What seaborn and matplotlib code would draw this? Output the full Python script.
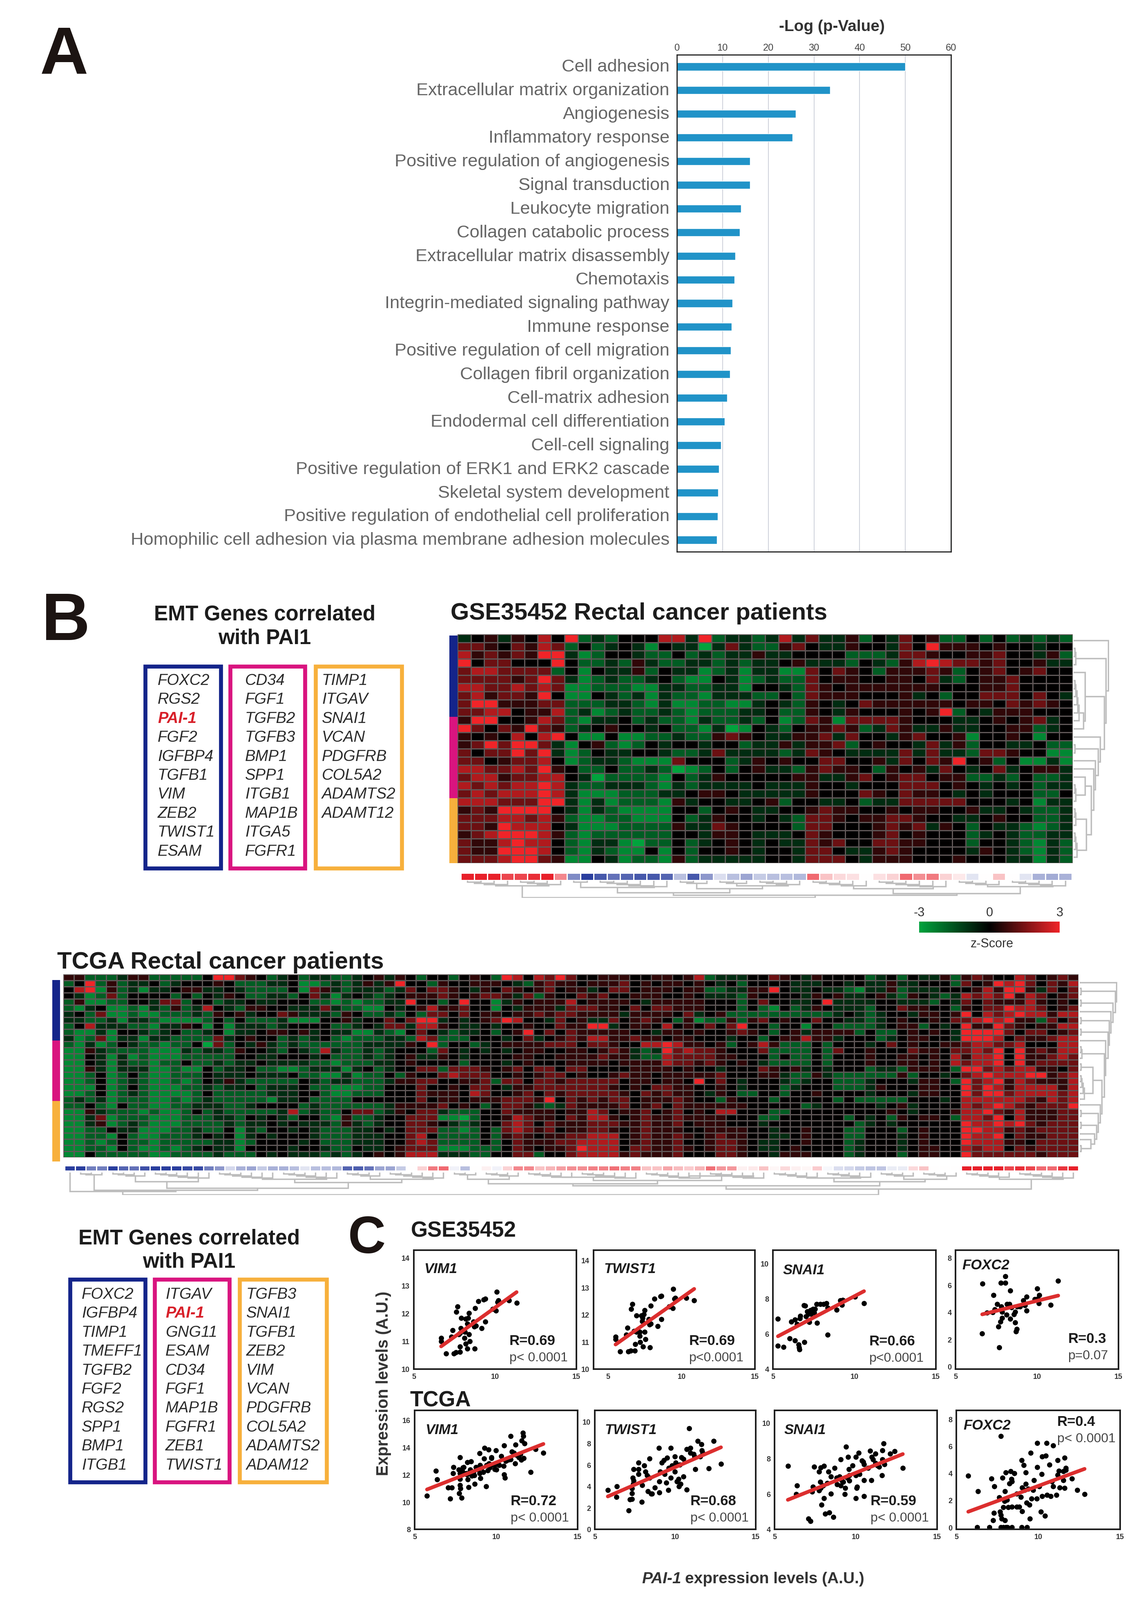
import numpy as np
import seaborn as sns
import matplotlib.pyplot as plt
from matplotlib.colors import LinearSegmentedColormap, ListedColormap
from matplotlib.patches import Rectangle
from matplotlib.transforms import ScaledTranslation

# --- Panel A data ---
GO_TERMS = ['Cell adhesion', 'Extracellular matrix organization', 'Angiogenesis', 'Inflammatory response',
            'Positive regulation of angiogenesis', 'Signal transduction', 'Leukocyte migration',
            'Collagen catabolic process', 'Extracellular matrix disassembly', 'Chemotaxis',
            'Integrin-mediated signaling pathway', 'Immune response', 'Positive regulation of cell migration',
            'Collagen fibril organization', 'Cell-matrix adhesion', 'Endodermal cell differentiation',
            'Cell-cell signaling', 'Positive regulation of ERK1 and ERK2 cascade', 'Skeletal system development',
            'Positive regulation of endothelial cell proliferation',
            'Homophilic cell adhesion via plasma membrane adhesion molecules']
GO_VALUES = [50, 33.5, 26, 25.3, 16, 16, 14, 13.8, 12.8, 12.6, 12.2, 12, 11.8, 11.6, 11, 10.5, 9.7, 9.2, 9, 8.9, 8.8]

# --- Heatmaps: one digit per cell, 1 = brightest green, 5 = black, 9 = brightest red ---
LEVEL_Z = [0, -3, -2.5, -1.7, -.8, 0, .6, 1.35, 2.2, 3]
GSE_LEFT = [
    '45646585 93435558 84934434', '77657687 35345425 44147433', '86767699 42355433 53434464',
    '95775559 53343643 34434344', '78877773 52544635 44234244', '77776797 42343345 32254234',
    '88778787 22333224 43344255', '78677695 22543424 33244433', '79966677 33344324 22332245',
    '77885668 34234334 32333445', '69955687 32445343 32433435', '97576976 34565545 33241254',
    '65658589 52252233 43367654', '67979974 25632354 55455344', '75779794 23544554 33474444',
    '77567785 23443222 75553465', '88778796 53353343 12353564', '78867788 54133332 53465555',
    '87878898 43344432 43444454', '78788898 42223334 45665444', '88877799 42423332 64554456',
    '67699995 42432222 55356544', '77788786 32233222 53465545', '77698885 42223333 64476555',
    '67899986 32333333 55466544', '76689885 32442133 53456545', '76699985 32432252 53556545',
    '77789976 22542332 63444445']
GSE_RIGHT = [
    '8474463 5 47 5 63 3 53 53 4 34 3', '6754465 5 47 5 96 6 65 65 5 45 5', '4555533 3 47 7 65 5 66 75 5 46 3',
    '5644435 4 36 8 98 7 76 75 5 64 4', '2275765 3 66 6 76 3 56 75 6 75 5', '3375665 5 66 5 74 3 56 67 5 55 5',
    '4376566 6 66 6 65 5 56 67 5 55 5', '5376665 5 56 4 53 5 57 77 5 75 4', '4365457 6 66 6 66 5 66 57 6 76 5',
    '3365465 5 56 5 69 3 54 66 6 55 5', '2376277 7 76 5 55 4 45 65 6 74 5', '3566763 4 76 4 46 4 45 56 6 34 5',
    '4667475 5 46 7 55 6 25 56 5 25 5', '6466735 6 55 4 74 6 35 54 4 53 3', '3476544 4 47 4 74 4 37 76 5 52 2',
    '6557755 6 47 5 76 9 56 35 2 24 2', '4367665 3 65 6 47 5 45 74 5 66 4', '5664467 5 67 7 56 6 33 43 5 33 4',
    '4465545 5 57 7 75 6 54 54 5 34 4', '4465557 6 57 6 65 4 54 55 5 33 5', '3554453 4 47 7 77 7 55 54 5 24 4',
    '5567665 5 65 6 65 5 64 45 4 33 4', '4377656 6 77 6 55 4 45 65 5 33 4', '5377555 6 76 7 46 5 35 44 3 23 4',
    '4576555 6 75 6 55 5 34 54 3 34 4', '4476755 7 76 6 55 5 35 54 3 24 3', '5477544 6 76 5 55 5 46 54 3 24 3',
    '5477754 6 66 5 55 6 55 54 4 24 3']

TCGA_LEFT = [
    '6633346633 3335997653 4534433456 4653553', '3593634453 4555653334 4522343464 6955365',
    '5892634244 5664454333 3527643444 3475776', '5423735555 3535465334 4357424543 4566676',
    '3622335547 7355344544 5553323233 4495535', '3245223243 6348543665 5444743322 5456866',
    '4537223223 3343656455 7644436533 4353775', '4433424432 2223535333 4222556455 7579945',
    '3584443324 4652524443 4555533454 7748865', '3224255434 5334524456 6564544224 3257543',
    '4237244244 3333745655 3434532333 4438733', '3242354332 3351735464 3433333344 4465935',
    '2264333322 2434436554 3543843343 4555375', '2254242322 2333335544 5554533343 4564465',
    '2254243323 3533434454 4443323334 4565555', '2264244422 3225344533 2234442453 4557737',
    '2235235322 3335444544 4533224233 5365578', '2235234322 3235464333 3354344333 4667755',
    '2225235322 2334344534 4453322233 5557556', '2235234322 2235333334 4455322333 5557666',
    '3434233322 3234333332 4453333555 5557566', '3353253322 3344433455 5534333333 4666675',
    '2264333232 2353433333 4834335773 4657743', '2247233322 2333443545 4355326334 5577722',
    '2246234322 2333343445 4544436434 5577654', '2233544222 3343352435 5454333445 4577733',
    '2233253223 3345452454 5554333444 5578533', '2232353323 3333442355 5545333444 5578733',
    '2233253223 2345442555 5455433544 5677722', '2253333322 3333433354 5444343456 5688844']
TCGA_MID = [
    '5653985879 7556665566 5683444557 65465555', '5666543676 6566675656 6565453555 54445545',
    '5465765675 6645775666 5663344669 54454432', '5677647365 5767556665 5654443655 55465644',
    '9552465666 8566665466 6665553575 54459444', '7552546664 7776657577 6665553532 53465444',
    '7566566767 7666646666 5745633333 33333454', '4567985547 5644756765 3623363675 65575544',
    '4454556557 6699456658 5657579553 55255333', '4453569575 7666665546 6565567653 56466663',
    '3555457456 7688667665 6655545535 66866455', '5345666677 7577655889 8665635686 33353555',
    '4545456655 6656764349 7877655573 33353755', '4555566556 6667664338 7777665553 53353555',
    '3555456555 6666566668 7767656543 33353555', '7765675775 7755556666 5655455576 56454555',
    '7775565677 5655676656 6666755566 43364333', '6673775776 7777756656 6595754555 43455333',
    '5775466777 7777656577 6655654555 34555333', '5875567576 7777765767 6654653355 35565555',
    '5666777695 7676775666 7655365553 55555353', '6535776434 7666675675 7666666555 55345555',
    '3355766665 6687566756 7565885553 35555555', '1355687665 7688656766 7666655533 55555535',
    '3455787576 6677766766 7566655545 55555553', '2353787675 6677656766 6556666554 55655533',
    '3353676566 7788856766 7656766554 45655533', '3353576667 7888856766 7556776544 55655534',
    '2333576566 7988857766 7656776544 56555534', '4335577355 7888867666 7555776554 66655534']
TCGA_RIGHT = [
    '345354463 67655875676', '446445553 75698975768', '446344455 56869964757',
    '564365434 87879687567', '455444354 75766686565', '355766553 65779887567',
    '345546656 95878988688', '345655657 78989663757', '345663545 96697656688',
    '533565654 99997577567', '534566554 99985766788', '457565566 78877855588',
    '655576657 78795967688', '655665658 68895966787', '655665658 78895967777',
    '344366653 99787886657', '333635545 78988899678', '455546653 97896876668',
    '465556655 97986888868', '455546655 97997888878', '333355545 88888876878',
    '545645555 87898767779', '556545556 88976866677', '453656653 88795866677',
    '454555555 98898976777', '555356555 99886767777', '555456555 98895766777',
    '555456555 98886657777', '555456655 87885767777', '555356655 97777776777']

# sample score strips under the heatmaps (z-score of PAI-1 per patient)
GSE_SAMPLE_SCORE = [3, 3, 3, 2.5, 2.5, 2.8, 3, 1.6, -1.8, -3, -2.6, -2.2, -2.4, -2.6, -2.6, -2.4,
                    -1, -2.6, -1.6, -.5, -1, -1.4, -.8, -1, -1, -1.1, 2, .8, .5, .4, 0, .4, .6, 2,
                    1.5, 1.8, .6, .3, -.4, 0, .8, 0, -.4, -1.2, -1.3, -1.2]
TCGA_SAMPLE_SCORE = [-3, -3, -2, -2, -3, -2.4, -2.2, -2.7, -3, -3, -3, -2.8, -2.8, -2, -1.6, -.6, -1.2, -1.4, -.8, -1.2,
                     -1.2, -1, -.4, -1, -1, -1.1, -2.4, -2.5, -2.2, -1.4, -1.4, -.8, 0, .6, 1.8, 2, -.2,
                     -1, 0, .2, -.2, .6, 1.6, 1.6, .8, 1, 1.3, 1.5, 1.5, 1.7, 1.7, 1.9, 1.7, 1.7, .8, .8, 1.2,
                     .9, .7, 1, 1.9, 1.4, 1.4, .2, .3, .8, .1, .5, .2, .1, .7, -.1, -.5, -.6, -.8,
                     -.9, -.9, -.3, -.3, .5, .8, 0, 0, 0, 3, 3, 3, 3, 2.5, 2.8, 2.5, 2, 2, 2.7, 3]
GSE_ROW_GROUPS = [10, 10, 8]
TCGA_ROW_GROUPS = [10, 10, 10]

# dendrograms: [merge height, child, child]; a plain int is a tight cluster of that many leaves
GSE_ROW_TREE = [1.0, 1, [.93, 3, [.88, [.33, 1, [.28, 6, 1]],
                [.76, 1, [.7, 2, [.62, 1, [.58, 1, [.5, [.33, 1, 3], [.36, 3, 4]]]]]]]]]
GSE_COL_TREE = [1.0, [.3, 4, 4], [.85, [.7, [.4, 2, 6], [.45, 3, [.3, 3, 4]]], [.75, [.45, 5, 6], [.35, 4, 5]]]]
TCGA_ROW_TREE = [1.0, 1, [.96, 2, [.9, 2, [.84, 1, [.8, 2, [.76, 2, [.7, 1, [.66, 3, [.6, [.35, 2, 5],
                 [.55, 1, [.5, 2, [.45, 2, [.4, 1, [.3, 1, 2]]]]]]]]]]]]]]
TCGA_COL_TREE = [1.0, [.85, 1, [.8, 3, [.7, [.4, 4, 6], [.45, [.3, 6, 6], [.3, 4, 6]]]]],
                 [.75, [.6, [.5, [.3, 3, 4], [.35, [.2, 5, 6], [.25, [.15, 6, 6], 0]]],
                        [.4, [.25, 5, 5], [.3, 4, 4]]], [.3, 5, 6]]]

# --- Gene lists ---
GSE_GENES = [['FOXC2', 'RGS2', 'PAI-1', 'FGF2', 'IGFBP4', 'TGFB1', 'VIM', 'ZEB2', 'TWIST1', 'ESAM'],
             ['CD34', 'FGF1', 'TGFB2', 'TGFB3', 'BMP1', 'SPP1', 'ITGB1', 'MAP1B', 'ITGA5', 'FGFR1'],
             ['TIMP1', 'ITGAV', 'SNAI1', 'VCAN', 'PDGFRB', 'COL5A2', 'ADAMTS2', 'ADAMT12']]
TCGA_GENES = [['FOXC2', 'IGFBP4', 'TIMP1', 'TMEFF1', 'TGFB2', 'FGF2', 'RGS2', 'SPP1', 'BMP1', 'ITGB1'],
              ['ITGAV', 'PAI-1', 'GNG11', 'ESAM', 'CD34', 'FGF1', 'MAP1B', 'FGFR1', 'ZEB1', 'TWIST1'],
              ['TGFB3', 'SNAI1', 'TGFB1', 'ZEB2', 'VIM', 'VCAN', 'PDGFRB', 'COL5A2', 'ADAMTS2', 'ADAM12']]

# --- Panel C scatter values ---
GSE_VIM_X = [6.68, 6.68, 6.98, 7.32, 7.39, 7.45, 7.6, 7.83, 7.68, 7.62, 7.85, 7.76, 7.92, 7.85, 7.88, 8.14, 8.11, 8.18,
             8.3, 8.38, 8.45, 8.74, 8.18, 8.38, 8.33, 8.3, 8.67, 8.71, 8.83, 8.76, 8.98, 9.29, 9.39, 9.17, 9.39, 9.85,
             10.05, 10.09, 10.15, 10.2, 10.86, 11.32]
GSE_VIM_Y = [11.12, 11.0, 10.56, 11.16, 11.4, 10.56, 10.6, 10.61, 12.25, 12.05, 11.29, 11.25, 11.83, 10.8, 11.47, 11.34,
             11.12, 10.91, 10.73, 11.25, 11.0, 10.73, 11.8, 12.01, 11.83, 11.63, 11.7, 11.52, 11.56, 12.19, 12.43, 12.5,
             12.53, 11.47, 11.7, 12.16, 12.1, 12.77, 12.41, 12.46, 12.46, 12.37]
GSE_TWIST_X = [5.5, 5.5, 5.8, 6.22, 6.31, 6.37, 6.54, 6.81, 6.64, 6.56, 6.93, 6.76, 6.93, 7.26, 7.43, 7.48, 6.84, 7.14,
               7.18, 7.38, 7.85, 7.55, 7.48, 7.31, 7.76, 7.81, 7.9, 7.9, 8.15, 8.57, 8.63, 8.38, 8.63, 9.15, 9.39, 9.44,
               9.52, 9.57, 10.33, 10.86, 7.14, 7.35]
GSE_TWIST_Y = [11.19, 11.1, 10.64, 11.26, 11.51, 10.64, 10.67, 10.68, 12.39, 12.21, 11.96, 11.39, 11.37, 11.96, 12.01,
               12.16, 10.91, 11.21, 10.99, 10.82, 10.8, 11.1, 11.37, 11.76, 11.83, 11.63, 11.66, 12.33, 12.59, 12.67,
               12.69, 11.58, 11.83, 12.3, 12.24, 12.94, 12.58, 12.62, 12.62, 12.52, 11.37, 11.87]
GSE_SNAI_X = [5.31, 5.31, 5.64, 6.03, 6.35, 6.58, 6.61, 6.64, 6.94, 6.12, 6.35, 6.49, 6.65, 6.68, 6.91, 6.99, 7.04, 7.22,
              7.11, 7.3, 7.45, 7.53, 7.57, 7.71, 7.68, 7.91, 8.11, 8.29, 8.37, 8.37, 8.9, 9.13, 9.24, 9.29, 10.05, 10.59,
              7.34, 7.19]
GSE_SNAI_Y = [6.85, 5.32, 5.25, 5.75, 5.62, 5.39, 5.23, 5.11, 5.54, 6.7, 6.8, 6.56, 6.87, 7.03, 7.62, 7.59, 6.99, 6.66,
              7.27, 7.34, 7.41, 7.2, 7.41, 6.63, 7.69, 7.69, 7.69, 7.73, 7.48, 5.96, 7.37, 7.9, 7.65, 7.93, 8.11, 7.75,
              7.13, 7.13]
GSE_FOXC2_X = [6.65, 6.64, 6.94, 7.28, 7.34, 7.4, 7.55, 7.63, 7.68, 7.75, 7.78, 7.86, 7.86, 7.81, 8.06, 8.07, 8.13, 8.17,
               8.32, 8.35, 8.35, 8.43, 8.59, 8.65, 8.67, 8.7, 8.75, 8.78, 8.96, 9.16, 9.27, 9.36, 9.36, 9.85, 10.0, 10.05,
               10.15, 10.12, 10.84, 11.3]
GSE_FOXC2_Y = [6.1, 2.42, 3.97, 3.99, 5.24, 4.21, 4.58, 2.93, 1.41, 3.3, 6.17, 4.03, 3.57, 4.4, 6.65, 6.15, 3.81, 4.58,
               4.58, 5.6, 3.52, 4.36, 3.85, 4.03, 3.24, 2.56, 2.75, 4.4, 4.4, 4.85, 4.49, 4.1, 5.13, 4.95, 5.73, 4.98,
               5.24, 4.65, 4.52, 6.32]
TCGA_VIM_X = [5.76, 6.31, 6.37, 7.05, 7.28, 7.17, 7.36, 7.39, 7.77, 7.71, 7.77, 7.78, 7.78, 7.74, 7.81, 7.89, 8.01, 8.07,
              8.19, 8.27, 8.31, 8.24, 8.47, 8.42, 8.5, 8.65, 8.68, 8.77, 8.92, 8.98, 9.03, 8.98, 9.29, 9.26, 9.38, 9.53,
              9.56, 9.48, 9.71, 9.79, 9.98, 10.02, 10.32, 10.17, 10.47, 10.5, 10.5, 10.55, 10.88, 10.74, 10.85, 10.96,
              11.19, 11.16, 11.23, 11.38, 11.53, 11.64, 11.66, 11.57, 11.73, 12.11, 12.42, 12.9, 8.9, 9.1, 9.4, 9.6, 9.9,
              10.2, 10.6, 10.9, 11.3, 11.5, 7.9, 8.2, 8.6, 9.2, 9.7, 9.9, 7.95, 8.4, 9.0, 11.1, 11.7]
TCGA_VIM_Y = [10.45, 12.27, 11.65, 11.04, 11.05, 10.24, 12.09, 12.53, 13.25, 12.36, 12.09, 11.67, 11.24, 10.64, 11.0,
              10.31, 12.55, 12.09, 12.09, 11.64, 11.07, 12.91, 12.95, 12.36, 11.91, 11.95, 11.33, 12.55, 12.36, 12.09,
              11.73, 13.55, 13.96, 13.18, 11.15, 13.82, 12.82, 12.31, 13.27, 12.73, 13.76, 12.36, 13.36, 12.73, 12.64,
              14.13, 12.0, 11.76, 14.82, 13.09, 13.18, 13.69, 14.18, 12.82, 13.45, 13.27, 13.09, 15.05, 14.82, 14.49,
              14.27, 12.18, 13.85, 13.6, 12.4, 12.5, 12.7, 12.5, 12.7, 12.7, 13.0, 13.1, 13.4, 13.5, 12.3, 12.0, 12.2,
              12.2, 13.2, 12.4, 12.5, 12.3, 12.7, 13.6, 13.2]
TCGA_TWIST_X = [5.81, 6.38, 6.35, 7.11, 7.19, 7.31, 7.37, 7.42, 7.31, 7.31, 7.39, 7.42, 7.72, 7.72, 7.72, 7.92, 7.95, 8.07,
                8.15, 8.41, 8.26, 8.41, 8.3, 8.49, 8.56, 8.72, 8.99, 9.02, 9.07, 9.02, 9.17, 9.28, 9.33, 9.48, 9.45, 9.56,
                9.71, 9.6, 9.71, 9.79, 9.98, 9.98, 10.02, 10.09, 10.21, 10.28, 10.32, 10.37, 10.52, 10.52, 10.7, 10.86,
                10.93, 10.7, 10.93, 11.13, 11.19, 11.24, 11.39, 11.54, 11.62, 11.7, 11.65, 12.08, 12.39, 12.84, 10.24]
TCGA_TWIST_Y = [3.64, 3.99, 3.0, 1.75, 2.79, 2.83, 4.79, 4.52, 3.34, 3.8, 4.22, 5.6, 5.6, 5.14, 6.18, 2.56, 4.1, 5.94, 5.37,
                6.59, 5.02, 4.79, 3.53, 3.29, 3.29, 3.87, 7.56, 3.41, 5.37, 4.45, 6.18, 6.41, 5.14, 6.64, 4.33, 3.64, 7.56,
                5.71, 4.79, 5.94, 6.75, 5.37, 6.18, 4.45, 4.68, 5.99, 4.22, 6.68, 6.52, 4.91, 3.69, 9.4, 7.56, 7.44, 7.1,
                6.98, 6.75, 5.6, 8.2, 6.75, 7.9, 7.1, 7.33, 5.67, 8.2, 6.08, 4.0]
TCGA_SNAI_X = [5.82, 6.37, 6.34, 7.09, 7.2, 7.35, 7.32, 7.43, 7.75, 7.85, 8.05, 7.75, 7.81, 7.9, 8.05, 8.11, 8.36, 8.31, 8.47,
               8.47, 8.62, 8.69, 8.82, 9.0, 9.08, 9.08, 9.23, 9.31, 9.4, 9.34, 9.53, 9.58, 9.61, 9.79, 9.99, 9.99, 10.04,
               10.18, 10.22, 10.07, 10.37, 10.5, 10.5, 10.5, 9.99, 10.76, 10.88, 10.95, 10.98, 11.21, 11.21, 11.32, 11.6,
               11.64, 11.72, 11.63, 11.75, 12.1, 12.39, 12.89, 7.85, 8.0, 8.24, 8.85, 9.15, 9.46, 9.61, 10.45, 11.06, 11.44]
TCGA_SNAI_Y = [7.56, 6.46, 5.97, 4.61, 4.45, 6.39, 6.11, 7.52, 7.24, 7.48, 7.56, 6.18, 6.68, 5.37, 5.76, 4.87, 4.94, 7.24,
               6.96, 6.0, 4.7, 7.45, 6.89, 6.96, 7.94, 6.46, 6.68, 5.97, 8.65, 6.32, 8.08, 7.38, 7.03, 7.59, 7.03, 8.08,
               6.32, 8.3, 7.1, 6.39, 7.87, 7.66, 5.87, 6.77, 5.76, 7.45, 8.41, 6.77, 8.08, 8.25, 7.73, 7.59, 7.03, 7.94,
               8.83, 8.44, 7.66, 8.27, 8.39, 7.45, 6.32, 6.46, 6.61, 6.54, 6.75, 6.89, 6.75, 7.8, 7.94, 7.52]
TCGA_FOXC2_X = [5.73, 6.31, 6.28, 7.02, 7.14, 7.32, 7.25, 7.29, 7.63, 7.68, 7.71, 7.78, 7.97, 7.83, 8.01, 7.98, 7.94, 8.09,
                8.32, 8.55, 8.36, 8.24, 8.39, 7.71, 7.86, 8.01, 8.12, 8.39, 8.98, 9.31, 7.86, 8.17, 8.39, 8.7, 8.85, 8.98,
                9.11, 9.25, 9.01, 9.01, 9.24, 9.16, 8.7, 8.93, 9.54, 9.74, 9.28, 9.46, 9.59, 9.39, 9.69, 9.95, 9.95, 9.92,
                10.05, 10.2, 10.23, 10.46, 10.5, 10.69, 10.92, 10.15, 10.41, 9.5, 10.23, 10.54, 10.76, 11.12, 10.84, 10.92,
                11.18, 11.18, 11.27, 11.61, 11.68, 11.68, 11.53, 11.53, 11.3, 11.61, 12.06, 12.37, 12.83, 7.71]
TCGA_FOXC2_Y = [3.8, 2.66, 0, 0, 3.61, 3.03, .51, 1.05, 2.2, 1.14, .92, .64, .51, 3.67, 4.04, 2.66, 1.93, 2.02, 4.13, 4.0,
                3.58, 3.25, 3.39, 0, 0, 0, 0, 0, 0, 0, 1.47, 1.47, 1.5, 1.5, 1.5, 4.95, 4.59, 4.04, 2.94, 1.19, 3.21, 2.75,
                2.48, 2.24, 5.5, 3.49, 1.83, 1.65, 2.11, 2.84, 2.75, 6.24, 4.44, 2.11, 3.03, 3.94, 5.23, 5.28, 6.24, 4.62,
                6.06, 1.14, .86, .64, 2.29, 2.39, 2.29, 2.39, 3.39, 3.03, 4.95, 3.86, 4.18, 5.14, 4.4, 4.22, 4.13, 3.49, 2.94,
                2.9, 3.61, 2.75, 2.44, 6.75]

W, H = 2798, 3916
GREY_TEXT = '#666666'
NAVY, MAGENTA, ORANGE = '#14248a', '#d9147f', '#f7b03c'


def ax_px(fig, x0, y0, x1, y1):
    return fig.add_axes([x0 / W, 1 - y1 / H, (x1 - x0) / W, (y1 - y0) / H])


def put(fig, x, y, s, **kw):
    fig.text(x / W, 1 - y / H, s, va=kw.pop('va', 'baseline'), **kw)


def levels(rows):
    table = np.array(LEVEL_Z)
    return table[np.array([[int(c) for c in r.replace(' ', '')] for r in rows])]


def tree_layout(node, start, segs, comb):
    # returns centre, height and next free leaf position
    if isinstance(node, int):
        centre, h = start + .5, 0
        for i in range(1, node):
            new_h = h + comb
            segs.append((centre, h, start + i + .5, 0, new_h))
            centre, h = (centre + start + i + .5) / 2, new_h
        return centre, h, start + node
    c1, h1, nxt = tree_layout(node[1], start, segs, comb)
    if node[2] == 0:
        return c1, h1, nxt
    c2, h2, nxt = tree_layout(node[2], nxt, segs, comb)
    segs.append((c1, h1, c2, h2, node[0]))
    return (c1 + c2) / 2, node[0], nxt


def draw_tree(ax, tree, n, horizontal, comb=.03):
    segs = []
    tree_layout(tree, 0, segs, comb)
    for c1, h1, c2, h2, top in segs:
        pos, hts = [c1, c1, c2, c2], [h1, top, top, h2]
        if horizontal:
            ax.plot(hts, pos, color='#bdbdbd', lw=2.5, solid_joinstyle='miter')
        else:
            ax.plot(pos, hts, color='#bdbdbd', lw=2.5, solid_joinstyle='miter')
    if horizontal:
        ax.set_xlim(0, 1.02)
        ax.set_ylim(n, 0)
    else:
        ax.set_xlim(0, n)
        ax.set_ylim(1.02, 0)
    ax.axis('off')


def draw_heatmap_block(fig, matrix, cmap, rect, lw):
    ax = ax_px(fig, *rect)
    sns.heatmap(matrix, ax=ax, cmap=cmap, vmin=-3, vmax=3, cbar=False, linewidths=lw,
                linecolor='#5f5757', xticklabels=False, yticklabels=False)
    return ax


def draw_strip(fig, scores, rect, cmap):
    ax = ax_px(fig, *rect)
    sns.heatmap(np.array(scores).reshape(1, -1), ax=ax, cmap=cmap, vmin=-3, vmax=3, cbar=False, linewidths=1,
                linecolor='white', xticklabels=False, yticklabels=False)


def draw_row_bar(fig, groups, rect):
    ax = ax_px(fig, *rect)
    codes = np.repeat(np.arange(len(groups)), groups).reshape(-1, 1)
    sns.heatmap(codes, ax=ax, cmap=ListedColormap([NAVY, MAGENTA, ORANGE]), cbar=False,
                xticklabels=False, yticklabels=False)


def gene_box(fig, x0, y0, x1, y1, color, genes, text_x, first_y, step):
    fig.add_artist(Rectangle((x0 / W, 1 - y1 / H), (x1 - x0) / W, (y1 - y0) / H, transform=fig.transFigure,
                             fill=False, ec=color, lw=7))
    for i, g in enumerate(genes):
        if g == 'PAI-1':
            put(fig, text_x, first_y + i * step, g, fontsize=27.5, style='italic', weight='bold', color='#d8202a')
        else:
            put(fig, text_x, first_y + i * step, g, fontsize=27.5, style='italic', color='#2a2a2a')


def scatter_panel(fig, rect, xs, ys, xlim, ylim, yticks):
    ax = ax_px(fig, *rect)
    sns.regplot(x=np.array(xs), y=np.array(ys), ax=ax, ci=None, color='black',
                scatter_kws={'s': 85, 'alpha': 1, 'linewidths': 0},
                line_kws={'color': '#dc2e2e', 'lw': 6.5})
    ax.set_xlim(*xlim)
    ax.set_ylim(*ylim)
    ax.set_xticks([5, 10, 15])
    ax.set_yticks(yticks)
    ax.tick_params(length=3, width=2.5, pad=4, labelsize=13, labelcolor='#333333')
    for lab in ax.get_xticklabels() + ax.get_yticklabels():
        lab.set_fontweight('bold')
    for s in ax.spines.values():
        s.set_visible(True)
        s.set_linewidth(2.8)
        s.set_color('#1c1c1c')
    return ax


def main():
    sns.set_theme(style='white')
    plt.rcParams['font.family'] = ['Liberation Sans', 'DejaVu Sans']
    plt.rcParams['axes.unicode_minus'] = False
    fig = plt.figure(figsize=(W / 100, H / 100), dpi=100, facecolor='white')

    # --- Panel letters ---
    put(fig, 98, 180, 'A', fontsize=118, weight='bold', color='#1c1412')
    put(fig, 102, 1566, 'B', fontsize=118, weight='bold', color='#1c1412')
    put(fig, 852, 3066, 'C', fontsize=92, weight='bold', color='#1c1412')

    # --- Panel A ---
    ax = ax_px(fig, 1657, 135, 2328, 1351)
    sns.barplot(x=GO_VALUES, y=GO_TERMS, ax=ax, color='#2093c8', saturation=1, width=.33)
    ax.set_xlim(0, 60)
    ax.xaxis.tick_top()
    ax.set_xticks(range(0, 61, 10))
    ax.grid(axis='x', color='#d0d3dc', lw=1.5)
    ax.set_axisbelow(True)
    ax.tick_params(axis='x', length=0, pad=4, labelsize=17, labelcolor='#444444')
    ax.tick_params(axis='y', length=0, pad=13, labelsize=31.3, labelcolor=GREY_TEXT)
    lift = ScaledTranslation(0, 3 / 72, fig.dpi_scale_trans)
    for lab in ax.get_yticklabels():
        lab.set_transform(lab.get_transform() + lift)
    for s in ax.spines.values():
        s.set_visible(True)
        s.set_linewidth(2)
        s.set_color('#222222')
    put(fig, 2036, 76, '-Log (p-Value)', fontsize=28, weight='bold', ha='center', color='#333333')

    # --- Panel B heatmaps ---
    heat_cmap = LinearSegmentedColormap.from_list('gbr', ['#00a33d', '#000000', '#f02428'])
    strip_cmap = LinearSegmentedColormap.from_list('bwr2', ['#2a3e9e', '#ffffff', '#e8202a'])

    gse = np.hstack([levels(GSE_LEFT), levels(GSE_RIGHT)])
    tcga = np.hstack([levels(TCGA_LEFT), levels(TCGA_MID), levels(TCGA_RIGHT)])

    put(fig, 1103, 1516, 'GSE35452 Rectal cancer patients', fontsize=42, weight='bold', color='#1c1c1c')
    draw_heatmap_block(fig, gse, heat_cmap, (1120, 1553, 2626, 2113), .9)
    draw_row_bar(fig, GSE_ROW_GROUPS, (1100, 1556, 1120, 2113))
    draw_strip(fig, GSE_SAMPLE_SCORE, (1128, 2137, 2624, 2155), strip_cmap)
    draw_tree(ax_px(fig, 2628, 1558, 2715, 2108), GSE_ROW_TREE, 28, True)
    draw_tree(ax_px(fig, 1128, 2156, 2624, 2198), GSE_COL_TREE, 46, False, comb=.07)

    put(fig, 140, 2370, 'TCGA Rectal cancer patients', fontsize=42, weight='bold', color='#1c1c1c')
    draw_heatmap_block(fig, tcga, heat_cmap, (155, 2385, 2640, 2833), .8)
    draw_row_bar(fig, TCGA_ROW_GROUPS, (128, 2399, 147, 2843))
    draw_strip(fig, TCGA_SAMPLE_SCORE, (158, 2853, 2640, 2866), strip_cmap)
    draw_tree(ax_px(fig, 2643, 2398, 2735, 2825), TCGA_ROW_TREE, 30, True)
    draw_tree(ax_px(fig, 158, 2870, 2640, 2925), TCGA_COL_TREE, 95, False, comb=.05)

    # colour key
    cax = ax_px(fig, 2250, 2256, 2594, 2283)
    key_ax = fig.add_axes([0, 0, .001, .001])
    key_ax.set_visible(False)
    sns.heatmap(np.array([[-3, 3]]), ax=key_ax, cmap=heat_cmap, vmin=-3, vmax=3, cbar_ax=cax,
                cbar_kws={'orientation': 'horizontal', 'ticks': [-3, 0, 3]})
    cax.xaxis.tick_top()
    cax.tick_params(length=0, pad=5, labelsize=22, labelcolor='#333333')
    for s in cax.spines.values():
        s.set_visible(False)
    put(fig, 2428, 2318, 'z-Score', fontsize=22, ha='center', color='#333333')

    # --- Gene lists ---
    for cx, y1, y2 in [(648, 1518, 1575), (463, 3045, 3102)]:
        put(fig, cx, y1, 'EMT Genes correlated', fontsize=37, weight='bold', ha='center', color='#1c1c1c')
        put(fig, cx, y2, 'with PAI1', fontsize=37, weight='bold', ha='center', color='#1c1c1c')
    colors = [NAVY, MAGENTA, ORANGE]
    gse_boxes = [(356, 1632, 541, 2126, 386), (564, 1632, 747, 2126, 600), (773, 1632, 984, 2126, 788)]
    tcga_boxes = [(172, 3132, 356, 3628, 200), (379, 3132, 562, 3628, 405), (587, 3132, 800, 3628, 603)]
    for box, col, genes in zip(gse_boxes, colors, GSE_GENES):
        gene_box(fig, *box[:4], col, genes, box[4], 1676, 46.4)
    for box, col, genes in zip(tcga_boxes, colors, TCGA_GENES):
        gene_box(fig, *box[:4], col, genes, box[4], 3178, 46.4)

    # --- Panel C ---
    put(fig, 1006, 3027, 'GSE35452', fontsize=38, weight='bold', color='#1c1c1c')
    put(fig, 1003, 3442, 'TCGA', fontsize=38, weight='bold', color='#1c1c1c')

    panels = [
        ((1013, 3060, 1411, 3351), GSE_VIM_X, GSE_VIM_Y, (5, 15), (10, 14.27), [10, 11, 12, 13, 14]),
        ((1453, 3060, 1848, 3351), GSE_TWIST_X, GSE_TWIST_Y, (4, 15), (10, 14.37), [10, 11, 12, 13, 14]),
        ((1892, 3060, 2291, 3351), GSE_SNAI_X, GSE_SNAI_Y, (5, 15), (4, 10.76), [4, 6, 8, 10]),
        ((2339, 3060, 2738, 3351), GSE_FOXC2_X, GSE_FOXC2_Y, (5, 15), (-.2, 8.57), [0, 2, 4, 6, 8]),
        ((1015, 3452, 1414, 3743), TCGA_VIM_X, TCGA_VIM_Y, (5, 15), (8, 16.7), [8, 10, 12, 14, 16]),
        ((1456, 3452, 1850, 3743), TCGA_TWIST_X, TCGA_TWIST_Y, (5, 15), (0, 11.06), [0, 2, 4, 6, 8, 10]),
        ((1896, 3452, 2294, 3743), TCGA_SNAI_X, TCGA_SNAI_Y, (5, 15), (4, 10.7), [4, 6, 8, 10]),
        ((2341, 3452, 2742, 3743), TCGA_FOXC2_X, TCGA_FOXC2_Y, (5, 15), (-.15, 8.65), [0, 2, 4, 6, 8]),
    ]
    for p in panels:
        scatter_panel(fig, *p)

    panel_text = [
        ('VIM1', 1038, 3115, 'R=0.69', 'p< 0.0001', 1247, 3291),
        ('TWIST1', 1479, 3115, 'R=0.69', 'p<0.0001', 1687, 3291),
        ('SNAI1', 1917, 3118, 'R=0.66', 'p<0.0001', 2128, 3292),
        ('FOXC2', 2355, 3106, 'R=0.3', 'p=0.07', 2615, 3286),
        ('VIM1', 1041, 3509, 'R=0.72', 'p< 0.0001', 1250, 3683),
        ('TWIST1', 1481, 3509, 'R=0.68', 'p< 0.0001', 1690, 3683),
        ('SNAI1', 1920, 3509, 'R=0.59', 'p< 0.0001', 2131, 3683),
        ('FOXC2', 2358, 3498, 'R=0.4', 'p< 0.0001', 2588, 3489),
    ]
    for gene, gx, gy, r_txt, p_txt, rx, ry in panel_text:
        put(fig, gx, gy, gene, fontsize=25, style='italic', weight='bold', color='#1c1c1c')
        put(fig, rx, ry, r_txt, fontsize=25, weight='bold', color='#1c1c1c')
        put(fig, rx, ry + 40, p_txt, fontsize=23, color='#444444')

    fig.text(939 / W, 1 - 3385 / H, 'Expression levels (A.U.)', rotation=90, fontsize=28.5, weight='bold',
             ha='center', va='center', color='#333333')
    put(fig, 1668, 3874, 'PAI-1', fontsize=28, style='italic', weight='bold', ha='right', color='#333333')
    put(fig, 1677, 3874, 'expression levels (A.U.)', fontsize=28, weight='bold', color='#333333')

    fig.savefig('out.png', dpi=100, facecolor='white')


if __name__ == '__main__':
    main()
